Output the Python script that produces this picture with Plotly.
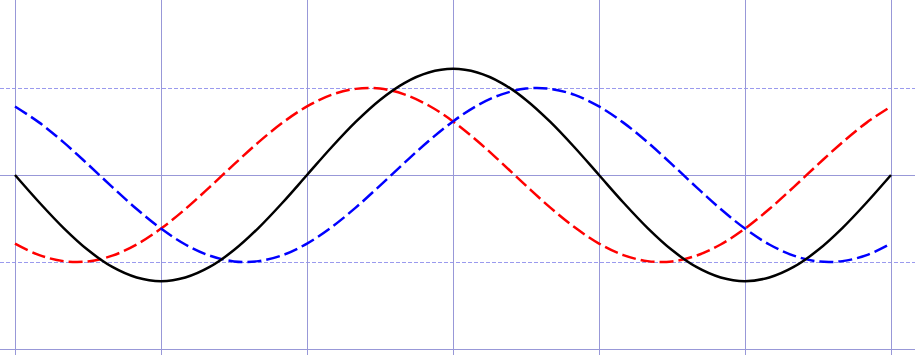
import plotly.graph_objects as go

# x positions in degrees
x_deg = [0, 15, 30, 45, 60, 75, 90, 105, 120, 135, 150, 165, 180, 195, 210, 225, 240, 255, 270,
         285, 300, 315, 330, 345, 360, 375, 390, 405, 420, 435, 450, 465, 480, 495, 510, 525, 540]

black_vals = [0, -0.316, -0.61, -0.863, -1.057, -1.178, -1.22, -1.178, -1.057, -0.863, -0.61, -0.316,
              0, 0.316, 0.61, 0.863, 1.057, 1.178, 1.22, 1.178, 1.057, 0.863, 0.61, 0.316,
              0, -0.316, -0.61, -0.863, -1.057, -1.178, -1.22, -1.178, -1.057, -0.863, -0.61, -0.316, 0]

red_vals = [-0.788, -0.921, -0.990, -0.993, -0.927, -0.799, -0.616, -0.391, -0.139, 0.122, 0.375, 0.602,
            0.788, 0.921, 0.990, 0.993, 0.927, 0.799, 0.616, 0.391, 0.139, -0.122, -0.375, -0.602,
            -0.788, -0.921, -0.990, -0.993, -0.927, -0.799, -0.616, -0.391, -0.139, 0.122, 0.375, 0.602, 0.788]

blue_vals = [0.788, 0.602, 0.375, 0.122, -0.139, -0.391, -0.616, -0.799, -0.927, -0.993, -0.990, -0.921,
             -0.788, -0.602, -0.375, -0.122, 0.139, 0.391, 0.616, 0.799, 0.927, 0.993, 0.990, 0.921,
             0.788, 0.602, 0.375, 0.122, -0.139, -0.391, -0.616, -0.799, -0.927, -0.993, -0.990, -0.921, -0.788]

fig = go.Figure()
fig.add_trace(go.Scatter(x=x_deg, y=red_vals, mode="lines",
                         line=dict(color="#ff0000", width=2.5, dash="14px,5px", shape="spline")))
fig.add_trace(go.Scatter(x=x_deg, y=blue_vals, mode="lines",
                         line=dict(color="#0000ff", width=2.5, dash="14px,5px", shape="spline")))
fig.add_trace(go.Scatter(x=x_deg, y=black_vals, mode="lines",
                         line=dict(color="#000000", width=2.5, shape="spline")))

W, H = 915, 355
px_per_deg = 876 / 540
x_lo = -15 / px_per_deg
x_hi = x_lo + W / px_per_deg
py = 87.0
y_hi = 175 / py
y_lo = y_hi - H / py

fig.update_layout(
    width=W, height=H,
    margin=dict(l=0, r=0, t=0, b=0),
    paper_bgcolor="white", plot_bgcolor="white",
    showlegend=False,
    xaxis=dict(range=[x_lo, x_hi], tick0=0, dtick=90, showgrid=True,
               gridcolor="#9898d8", gridwidth=1, zeroline=False,
               showticklabels=False, ticks="", showline=False),
    yaxis=dict(range=[y_lo, y_hi], tick0=0, dtick=2, showgrid=True,
               gridcolor="#9898d8", gridwidth=1, zeroline=False,
               showticklabels=False, ticks="", showline=False,
               minor=dict(dtick=1, tick0=0, showgrid=True, gridcolor="#9a9aee",
                          griddash="4px,2px", gridwidth=1)),
)

fig.write_html("out.html")
